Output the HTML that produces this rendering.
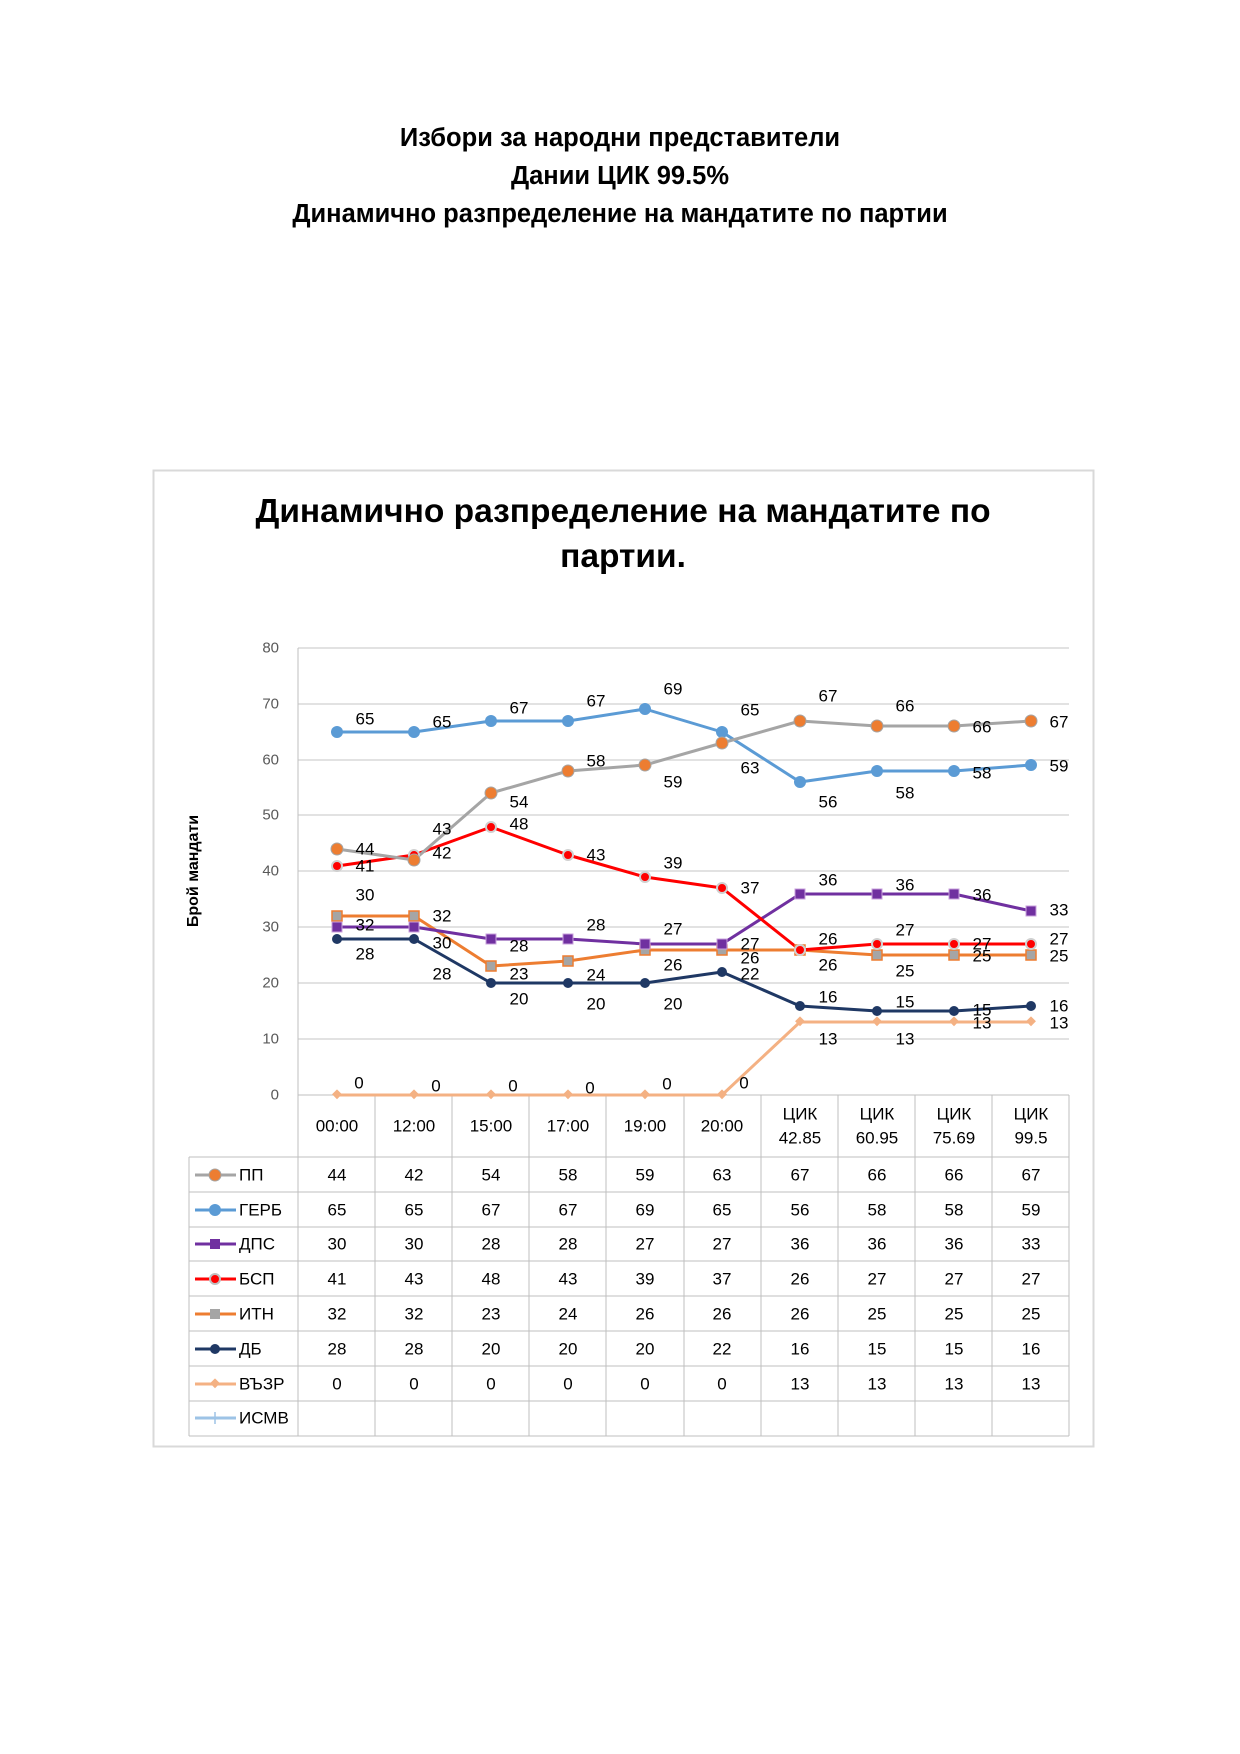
<!DOCTYPE html>
<html><head><meta charset="utf-8"><style>
body{margin:0;background:#fff;width:1240px;height:1754px;overflow:hidden}
svg{display:block}
text{font-family:"Liberation Sans","DejaVu Sans",sans-serif}
</style></head><body>
<svg width="1240" height="1754" viewBox="0 0 1240 1754" xmlns="http://www.w3.org/2000/svg">
<g font-weight="bold" font-size="25.5" text-anchor="middle" fill="#000">
<text x="620" y="146">Избори за народни представители</text>
<text x="620" y="184">Дании ЦИК 99.5%</text>
<text x="620" y="222">Динамично разпределение на мандатите по партии</text>
</g>
<rect x="153.5" y="470.5" width="940" height="976" fill="#fff" stroke="#d9d9d9" stroke-width="2"/>
<g font-weight="bold" font-size="33.5" text-anchor="middle">
<text x="623" y="522">Динамично разпределение на мандатите по</text>
<text x="623" y="567">партии.</text>
</g>
<text transform="translate(198,871) rotate(-90)" font-size="16" font-weight="bold" text-anchor="middle">Брой мандати</text>
<g stroke="#d9d9d9" stroke-width="1.5">
<line x1="298" y1="648" x2="1069" y2="648"/><line x1="298" y1="704" x2="1069" y2="704"/>
<line x1="298" y1="760" x2="1069" y2="760"/><line x1="298" y1="815" x2="1069" y2="815"/>
<line x1="298" y1="871" x2="1069" y2="871"/><line x1="298" y1="927" x2="1069" y2="927"/>
<line x1="298" y1="983" x2="1069" y2="983"/><line x1="298" y1="1039" x2="1069" y2="1039"/>
</g>
<g font-size="15" fill="#595959" text-anchor="end" dominant-baseline="central">
<text x="279" y="648">80</text><text x="279" y="704">70</text><text x="279" y="760">60</text><text x="279" y="815">50</text><text x="279" y="871">40</text><text x="279" y="927">30</text><text x="279" y="983">20</text><text x="279" y="1039">10</text><text x="279" y="1095">0</text>
</g>
<g stroke="#bfbfbf" stroke-width="1" fill="none">
<line x1="298" y1="1095" x2="1069" y2="1095"/>
<line x1="189" y1="1157" x2="1069" y2="1157"/>
<line x1="189" y1="1192" x2="1069" y2="1192"/><line x1="189" y1="1227" x2="1069" y2="1227"/>
<line x1="189" y1="1261" x2="1069" y2="1261"/><line x1="189" y1="1296" x2="1069" y2="1296"/>
<line x1="189" y1="1331" x2="1069" y2="1331"/><line x1="189" y1="1366" x2="1069" y2="1366"/>
<line x1="189" y1="1401" x2="1069" y2="1401"/><line x1="189" y1="1436" x2="1069" y2="1436"/>
<line x1="189" y1="1157" x2="189" y2="1436"/>
<line x1="298" y1="648" x2="298" y2="1436"/><line x1="375" y1="1095" x2="375" y2="1436"/>
<line x1="452" y1="1095" x2="452" y2="1436"/><line x1="529" y1="1095" x2="529" y2="1436"/>
<line x1="606" y1="1095" x2="606" y2="1436"/><line x1="684" y1="1095" x2="684" y2="1436"/>
<line x1="761" y1="1095" x2="761" y2="1436"/><line x1="838" y1="1095" x2="838" y2="1436"/>
<line x1="915" y1="1095" x2="915" y2="1436"/><line x1="992" y1="1095" x2="992" y2="1436"/>
<line x1="1069" y1="1095" x2="1069" y2="1436"/>
</g>
<g font-size="17" text-anchor="middle" dominant-baseline="central" fill="#000">
<text x="337" y="1126">00:00</text><text x="414" y="1126">12:00</text><text x="491" y="1126">15:00</text><text x="568" y="1126">17:00</text><text x="645" y="1126">19:00</text><text x="722" y="1126">20:00</text>
<text x="800" y="1114">ЦИК</text><text x="800" y="1138">42.85</text>
<text x="877" y="1114">ЦИК</text><text x="877" y="1138">60.95</text>
<text x="954" y="1114">ЦИК</text><text x="954" y="1138">75.69</text>
<text x="1031" y="1114">ЦИК</text><text x="1031" y="1138">99.5</text>
</g>
<g font-size="17" text-anchor="middle" dominant-baseline="central">
<g transform="translate(0,1175)"><text x="337">44</text><text x="414">42</text><text x="491">54</text><text x="568">58</text><text x="645">59</text><text x="722">63</text><text x="800">67</text><text x="877">66</text><text x="954">66</text><text x="1031">67</text></g>
<g transform="translate(0,1210)"><text x="337">65</text><text x="414">65</text><text x="491">67</text><text x="568">67</text><text x="645">69</text><text x="722">65</text><text x="800">56</text><text x="877">58</text><text x="954">58</text><text x="1031">59</text></g>
<g transform="translate(0,1244)"><text x="337">30</text><text x="414">30</text><text x="491">28</text><text x="568">28</text><text x="645">27</text><text x="722">27</text><text x="800">36</text><text x="877">36</text><text x="954">36</text><text x="1031">33</text></g>
<g transform="translate(0,1279)"><text x="337">41</text><text x="414">43</text><text x="491">48</text><text x="568">43</text><text x="645">39</text><text x="722">37</text><text x="800">26</text><text x="877">27</text><text x="954">27</text><text x="1031">27</text></g>
<g transform="translate(0,1314)"><text x="337">32</text><text x="414">32</text><text x="491">23</text><text x="568">24</text><text x="645">26</text><text x="722">26</text><text x="800">26</text><text x="877">25</text><text x="954">25</text><text x="1031">25</text></g>
<g transform="translate(0,1349)"><text x="337">28</text><text x="414">28</text><text x="491">20</text><text x="568">20</text><text x="645">20</text><text x="722">22</text><text x="800">16</text><text x="877">15</text><text x="954">15</text><text x="1031">16</text></g>
<g transform="translate(0,1384)"><text x="337">0</text><text x="414">0</text><text x="491">0</text><text x="568">0</text><text x="645">0</text><text x="722">0</text><text x="800">13</text><text x="877">13</text><text x="954">13</text><text x="1031">13</text></g>
</g>
<g font-size="17" dominant-baseline="central">
<line x1="195" y1="1175" x2="236" y2="1175" stroke="#a5a5a5" stroke-width="3"/><circle cx="215" cy="1175" r="6" fill="#ed7d31" stroke="#a5a5a5"/><text x="239" y="1175">ПП</text>
<line x1="195" y1="1210" x2="236" y2="1210" stroke="#5b9bd5" stroke-width="3"/><circle cx="215" cy="1210" r="6" fill="#5b9bd5"/><text x="239" y="1210">ГЕРБ</text>
<line x1="195" y1="1244" x2="236" y2="1244" stroke="#7030a0" stroke-width="3"/><rect x="210" y="1239" width="10" height="10" fill="#7030a0"/><text x="239" y="1244">ДПС</text>
<line x1="195" y1="1279" x2="236" y2="1279" stroke="#ff0000" stroke-width="3"/><circle cx="215" cy="1279" r="5" fill="#ff0000" stroke="#bfbfbf" stroke-width="2"/><text x="239" y="1279">БСП</text>
<line x1="195" y1="1314" x2="236" y2="1314" stroke="#ed7d31" stroke-width="3"/><rect x="210" y="1309" width="10" height="10" fill="#a5a5a5"/><text x="239" y="1314">ИТН</text>
<line x1="195" y1="1349" x2="236" y2="1349" stroke="#1f3864" stroke-width="3"/><circle cx="215" cy="1349" r="5" fill="#1f3864"/><text x="239" y="1349">ДБ</text>
<line x1="195" y1="1384" x2="236" y2="1384" stroke="#f4b183" stroke-width="3"/><rect x="211" y="1380" width="7" height="7" fill="#f4b183" transform="rotate(45 215 1384)"/><text x="239" y="1384">ВЪЗР</text>
<line x1="195" y1="1418" x2="236" y2="1418" stroke="#9dc3e6" stroke-width="3"/><line x1="215" y1="1412" x2="215" y2="1424" stroke="#9dc3e6" stroke-width="1.5"/><text x="239" y="1418">ИСМВ</text>
</g>
<g fill="none" stroke-width="3" stroke-linejoin="round">
<polyline stroke="#f4b183" points="337,1095 414,1095 491,1095 568,1095 645,1095 722,1095 800,1022 877,1022 954,1022 1031,1022"/>
<polyline stroke="#1f3864" points="337,939 414,939 491,983 568,983 645,983 722,972 800,1006 877,1011 954,1011 1031,1006"/>
<polyline stroke="#ed7d31" points="337,916 414,916 491,966 568,961 645,950 722,950 800,950 877,955 954,955 1031,955"/>
<polyline stroke="#7030a0" points="337,927 414,927 491,939 568,939 645,944 722,944 800,894 877,894 954,894 1031,911"/>
<polyline stroke="#ff0000" points="337,866 414,855 491,827 568,855 645,877 722,888 800,950 877,944 954,944 1031,944"/>
<polyline stroke="#5b9bd5" points="337,732 414,732 491,721 568,721 645,709 722,732 800,782 877,771 954,771 1031,765"/>
<polyline stroke="#a5a5a5" points="337,849 414,860 491,793 568,771 645,765 722,743 800,721 877,726 954,726 1031,721"/>
</g>
<g fill="#f4b183">
<rect x="333" y="1091" width="7" height="7" transform="rotate(45 337 1095)"/><rect x="410" y="1091" width="7" height="7" transform="rotate(45 414 1095)"/><rect x="487" y="1091" width="7" height="7" transform="rotate(45 491 1095)"/><rect x="564" y="1091" width="7" height="7" transform="rotate(45 568 1095)"/><rect x="641" y="1091" width="7" height="7" transform="rotate(45 645 1095)"/><rect x="718" y="1091" width="7" height="7" transform="rotate(45 722 1095)"/><rect x="796" y="1018" width="7" height="7" transform="rotate(45 800 1022)"/><rect x="873" y="1018" width="7" height="7" transform="rotate(45 877 1022)"/><rect x="950" y="1018" width="7" height="7" transform="rotate(45 954 1022)"/><rect x="1027" y="1018" width="7" height="7" transform="rotate(45 1031 1022)"/>
</g>
<g fill="#1f3864">
<circle cx="337" cy="939" r="5"/><circle cx="414" cy="939" r="5"/><circle cx="491" cy="983" r="5"/><circle cx="568" cy="983" r="5"/><circle cx="645" cy="983" r="5"/><circle cx="722" cy="972" r="5"/><circle cx="800" cy="1006" r="5"/><circle cx="877" cy="1011" r="5"/><circle cx="954" cy="1011" r="5"/><circle cx="1031" cy="1006" r="5"/>
</g>
<g fill="#a5a5a5" stroke="#ed7d31" stroke-width="1.5">
<rect x="332" y="911" width="10" height="10"/><rect x="409" y="911" width="10" height="10"/><rect x="486" y="961" width="10" height="10"/><rect x="563" y="956" width="10" height="10"/><rect x="640" y="945" width="10" height="10"/><rect x="717" y="945" width="10" height="10"/><rect x="795" y="945" width="10" height="10"/><rect x="872" y="950" width="10" height="10"/><rect x="949" y="950" width="10" height="10"/><rect x="1026" y="950" width="10" height="10"/>
</g>
<g fill="#7030a0" stroke="#c9a0dc" stroke-width="1">
<rect x="332" y="922" width="10" height="10"/><rect x="409" y="922" width="10" height="10"/><rect x="486" y="934" width="10" height="10"/><rect x="563" y="934" width="10" height="10"/><rect x="640" y="939" width="10" height="10"/><rect x="717" y="939" width="10" height="10"/><rect x="795" y="889" width="10" height="10"/><rect x="872" y="889" width="10" height="10"/><rect x="949" y="889" width="10" height="10"/><rect x="1026" y="906" width="10" height="10"/>
</g>
<g fill="#ff0000" stroke="#d0d0d0" stroke-width="2">
<circle cx="337" cy="866" r="5"/><circle cx="414" cy="855" r="5"/><circle cx="491" cy="827" r="5"/><circle cx="568" cy="855" r="5"/><circle cx="645" cy="877" r="5"/><circle cx="722" cy="888" r="5"/><circle cx="800" cy="950" r="5"/><circle cx="877" cy="944" r="5"/><circle cx="954" cy="944" r="5"/><circle cx="1031" cy="944" r="5"/>
</g>
<g fill="#5b9bd5">
<circle cx="337" cy="732" r="6"/><circle cx="414" cy="732" r="6"/><circle cx="491" cy="721" r="6"/><circle cx="568" cy="721" r="6"/><circle cx="645" cy="709" r="6"/><circle cx="722" cy="732" r="6"/><circle cx="800" cy="782" r="6"/><circle cx="877" cy="771" r="6"/><circle cx="954" cy="771" r="6"/><circle cx="1031" cy="765" r="6"/>
</g>
<g fill="#ed7d31" stroke="#a5a5a5" stroke-width="1">
<circle cx="337" cy="849" r="6"/><circle cx="414" cy="860" r="6"/><circle cx="491" cy="793" r="6"/><circle cx="568" cy="771" r="6"/><circle cx="645" cy="765" r="6"/><circle cx="722" cy="743" r="6"/><circle cx="800" cy="721" r="6"/><circle cx="877" cy="726" r="6"/><circle cx="954" cy="726" r="6"/><circle cx="1031" cy="721" r="6"/>
</g>
<g font-size="17" text-anchor="middle" dominant-baseline="central" fill="#000">
<text x="365" y="719">65</text><text x="442" y="722">65</text><text x="519" y="708">67</text><text x="596" y="701">67</text><text x="673" y="689">69</text><text x="750" y="710">65</text><text x="828" y="802">56</text><text x="905" y="793">58</text><text x="982" y="773">58</text><text x="1059" y="766">59</text>
<text x="365" y="849">44</text><text x="442" y="853">42</text><text x="519" y="802">54</text><text x="596" y="761">58</text><text x="673" y="782">59</text><text x="750" y="768">63</text><text x="828" y="696">67</text><text x="905" y="706">66</text><text x="982" y="727">66</text><text x="1059" y="722">67</text>
<text x="365" y="895">30</text><text x="442" y="943">30</text><text x="519" y="946">28</text><text x="596" y="925">28</text><text x="673" y="929">27</text><text x="750" y="944">27</text><text x="828" y="880">36</text><text x="905" y="885">36</text><text x="982" y="895">36</text><text x="1059" y="910">33</text>
<text x="365" y="866">41</text><text x="442" y="829">43</text><text x="519" y="824">48</text><text x="596" y="855">43</text><text x="673" y="863">39</text><text x="750" y="888">37</text><text x="828" y="939">26</text><text x="905" y="930">27</text><text x="982" y="944">27</text><text x="1059" y="939">27</text>
<text x="365" y="925">32</text><text x="442" y="916">32</text><text x="519" y="974">23</text><text x="596" y="975">24</text><text x="673" y="965">26</text><text x="750" y="958">26</text><text x="828" y="965">26</text><text x="905" y="971">25</text><text x="982" y="956">25</text><text x="1059" y="956">25</text>
<text x="365" y="954">28</text><text x="442" y="974">28</text><text x="519" y="999">20</text><text x="596" y="1004">20</text><text x="673" y="1004">20</text><text x="750" y="974">22</text><text x="828" y="997">16</text><text x="905" y="1002">15</text><text x="982" y="1010">15</text><text x="1059" y="1006">16</text>
<text x="359" y="1083">0</text><text x="436" y="1086">0</text><text x="513" y="1086">0</text><text x="590" y="1088">0</text><text x="667" y="1084">0</text><text x="744" y="1083">0</text><text x="828" y="1039">13</text><text x="905" y="1039">13</text><text x="982" y="1023">13</text><text x="1059" y="1023">13</text>
</g>
</svg>
</body></html>
